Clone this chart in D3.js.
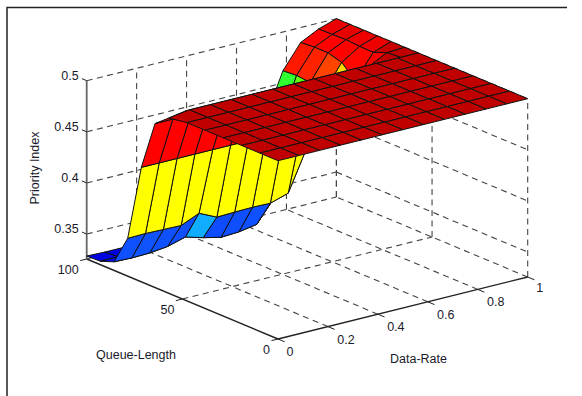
<!DOCTYPE html>
<html>
<head>
<meta charset="utf-8">
<script src="https://cdn.jsdelivr.net/npm/d3@7"></script>
<style>
  body { margin: 0; background: #fff; }
  text { font-family: "Liberation Sans", Arial, sans-serif; font-size: 12.5px; fill: #1a1a2a; }
</style>
</head>
<body>
<div id="chart"></div>
<script>
// Fine part of the surface: the wall and the hump, high queue lengths
var queueLengths = [57.14, 64.29, 71.43, 78.57, 85.71, 92.86, 100];
var dataRates = [0, 0.0714, 0.1429, 0.2143, 0.2857, 0.3571, 0.4286, 0.5, 0.5714, 0.6429, 0.7143, 0.7857, 0.8571, 0.9286, 1];

// Priority index, one row per queue length, one column per data rate
var row08 = [0.497, 0.5, 0.5, 0.5, 0.5, 0.5, 0.5, 0.5, 0.5, 0.5, 0.5, 0.5, 0.5, 0.5, 0.5];
var row09 = [0.486, 0.486, 0.486, 0.486, 0.486, 0.486, 0.486, 0.486, 0.486, 0.486, 0.486, 0.488, 0.49, 0.499, 0.5];
var row10 = [0.4376, 0.4376, 0.4376, 0.4376, 0.4376, 0.4376, 0.4376, 0.4376, 0.4376, 0.4376, 0.44, 0.443, 0.47, 0.4937, 0.5];
var row11 = [0.3626, 0.363, 0.3626, 0.3622, 0.3698, 0.3617, 0.3623, 0.3627, 0.3623, 0.3678, 0.406, 0.458, 0.4826, 0.494, 0.5];
var row12 = [0.334, 0.3335, 0.334, 0.336, 0.341, 0.336, 0.332, 0.333, 0.336, 0.358, 0.42, 0.4617, 0.4864, 0.495, 0.5];
var row13 = [0.329, 0.329, 0.33, 0.33, 0.332, 0.333, 0.333, 0.334, 0.336, 0.34, 0.415, 0.463, 0.4864, 0.4945, 0.5];
var row14 = [0.3285, 0.328, 0.328, 0.329, 0.33, 0.33, 0.33, 0.331, 0.333, 0.336, 0.419, 0.462, 0.4854, 0.4943, 0.5];
var priority = [row08, row09, row10, row11, row12, row13, row14];

// Coarse part of the surface: the flat top, low queue lengths
var topQueues = [0, 9.52, 19.05, 28.57, 38.1, 47.62, 57.14];
var topRates = [0, 0.0833, 0.1667, 0.25, 0.3333, 0.4167, 0.5, 0.5833, 0.6667, 0.75, 0.8333, 0.9167, 1];
var top0 = [0.5, 0.5, 0.5, 0.5, 0.5, 0.5, 0.5, 0.5, 0.5, 0.5, 0.5, 0.5, 0.5];
var top1 = [0.5, 0.5, 0.5, 0.5, 0.5, 0.5, 0.5, 0.5, 0.5, 0.5, 0.5, 0.5, 0.5];
var top2 = [0.5, 0.5, 0.5, 0.5, 0.5, 0.5, 0.5, 0.5, 0.5, 0.5, 0.5, 0.5, 0.5];
var top3 = [0.5, 0.5, 0.5, 0.5, 0.5, 0.5, 0.5, 0.5, 0.5, 0.5, 0.5, 0.5, 0.5];
var top4 = [0.5, 0.5, 0.5, 0.5, 0.5, 0.5, 0.5, 0.5, 0.5, 0.5, 0.5, 0.5, 0.5];
var top5 = [0.5, 0.5, 0.5, 0.5, 0.5, 0.5, 0.5, 0.5, 0.5, 0.5, 0.5, 0.5, 0.5];
var top6 = [0.497, 0.5, 0.5, 0.5, 0.5, 0.5, 0.5, 0.5, 0.5, 0.5, 0.5, 0.5, 0.5];
var topPriority = [top0, top1, top2, top3, top4, top5, top6];

// Ticks
var priorityTicks = [0.35, 0.4, 0.45, 0.5];
var priorityLabels = ["0.35", "0.4", "0.45", "0.5"];
var queueTicks = [0, 50, 100];
var rateTicks = [0, 0.2, 0.4, 0.6, 0.8, 1];
var rateLabels = ["0", "0.2", "0.4", "0.6", "0.8", "1"];

// Colormap stops, picked to match the facets
var colorLevels = [0.326, 0.329, 0.345, 0.3627, 0.37, 0.4, 0.415, 0.42, 0.4376, 0.443, 0.46, 0.465, 0.49, 0.494, 0.5];
var colorValues = ["#0000c0", "#0000e0", "#0020ff", "#0f50ff", "#10b0ff", "#20ffa0", "#30ff30", "#60ff10",
                   "#ffff00", "#ffd800", "#ff3000", "#ff0800", "#ff0000", "#ee0000", "#c00000"];

var svg = d3.select("#chart").append("svg")
    .attr("width", 582)
    .attr("height", 396);

// The figure frame
svg.append("path")
    .attr("d", "M7,396V7.5H567")
    .attr("fill", "none")
    .attr("stroke", "#222")
    .attr("stroke-width", 1.5);

// Oblique projection of the box, one scale per axis
var originX = 278, originY = 339;
var zMin = 0.3256, zMax = 0.5;
var qX = d3.scaleLinear().domain([0, 100]).range([0, -191.3]);
var qY = d3.scaleLinear().domain([0, 100]).range([0, -80]);
var dX = d3.scaleLinear().domain([0, 1]).range([0, 249.7]);
var dY = d3.scaleLinear().domain([0, 1]).range([0, -62]);
var zY = d3.scaleLinear().domain([zMin, zMax]).range([0, -178.3]);

function project(q, d, z) {
    return [originX + qX(q) + dX(d), originY + qY(q) + dY(d) + zY(z)];
}

var line = d3.line();
var colorScale = d3.scaleLinear().domain(colorLevels).range(colorValues).clamp(true);

function segment(g, a, b) {
    g.append("path").attr("d", line([project(a[0], a[1], a[2]), project(b[0], b[1], b[2])]));
}

// Dashed grid on the floor and on the two back walls
var grid = svg.append("g")
    .attr("fill", "none")
    .attr("stroke", "#444")
    .attr("stroke-width", 1.1)
    .attr("stroke-dasharray", "6,4.5");

rateTicks.forEach(function(d) {
    if (d > 0) segment(grid, [0, d, zMin], [100, d, zMin]);
    if (d > 0) segment(grid, [100, d, zMin], [100, d, zMax]);
});
queueTicks.forEach(function(q) {
    if (q > 0) segment(grid, [q, 0, zMin], [q, 1, zMin]);
    segment(grid, [q, 1, zMin], [q, 1, zMax]);
});
priorityTicks.forEach(function(z) {
    segment(grid, [100, 0, z], [100, 1, z]);
    segment(grid, [100, 1, z], [0, 1, z]);
});

// Solid axes and their outward ticks
var axes = svg.append("g").attr("fill", "none").attr("stroke", "#222").attr("stroke-width", 1.4);
segment(axes, [100, 0, zMin], [0, 0, zMin]);
segment(axes, [0, 0, zMin], [0, 1, zMin]);
segment(axes.append("g").attr("stroke", "#666").attr("stroke-width", 1.8), [100, 0, zMin], [100, 0, zMax]);

var tickMarks = axes.append("g").attr("stroke-width", 1);
rateTicks.forEach(function(d) {
    segment(tickMarks, [0, d, zMin], [-3.5, d, zMin]);
});
queueTicks.forEach(function(q) {
    segment(tickMarks, [q, 0, zMin], [q, -0.026, zMin]);
});
priorityTicks.forEach(function(z) {
    segment(tickMarks, [100, 0, z], [102.5, 0, z]);
});

// Paints one rectangular mesh from its far corner to its near corner
function drawMesh(queues, rates, values) {
    var cells = [];
    d3.range(queues.length - 2, -1, -1).forEach(function(i) {
        d3.range(rates.length - 2, -1, -1).forEach(function(j) {
            cells.push({i: i, j: j});
        });
    });

    svg.append("g")
        .selectAll("path")
        .data(cells)
        .enter()
        .append("path")
        .attr("d", function(c) {
            var pts = [[c.i, c.j], [c.i, c.j + 1], [c.i + 1, c.j + 1], [c.i + 1, c.j]].map(function(p) {
                return project(queues[p[0]], rates[p[1]], values[p[0]][p[1]]);
            });
            return line(pts) + "Z";
        })
        .attr("fill", function(c) { return colorScale(values[c.i][c.j]); })
        .attr("stroke", "#111")
        .attr("stroke-width", 1)
        .attr("stroke-linejoin", "round");
}

drawMesh(queueLengths, dataRates, priority);
drawMesh(topQueues, topRates, topPriority);

// Tick labels
var labels = svg.append("g");

priorityTicks.forEach(function(z, k) {
    var p = project(100, 0, z);
    labels.append("text")
        .attr("x", p[0] - 8)
        .attr("y", p[1] - 1)
        .attr("text-anchor", "end")
        .text(priorityLabels[k]);
});

queueTicks.forEach(function(q) {
    var p = project(q, 0, zMin);
    labels.append("text")
        .attr("x", p[0] - 8)
        .attr("y", p[1] + 15)
        .attr("text-anchor", "end")
        .text(q);
});

rateTicks.forEach(function(d, k) {
    var p = project(0, d, zMin);
    labels.append("text")
        .attr("x", p[0] + (k === 0 ? 12 : k === 5 ? 12 : 18))
        .attr("y", p[1] + (k === 5 ? 15 : 17))
        .attr("text-anchor", "middle")
        .text(rateLabels[k]);
});

// Axis titles
labels.append("text").attr("x", 96).attr("y", 359).text("Queue-Length");
labels.append("text").attr("x", 390).attr("y", 363).text("Data-Rate");
labels.append("text")
    .attr("transform", "translate(39,168) rotate(-90)")
    .attr("text-anchor", "middle")
    .text("Priority Index");
</script>
</body>
</html>
